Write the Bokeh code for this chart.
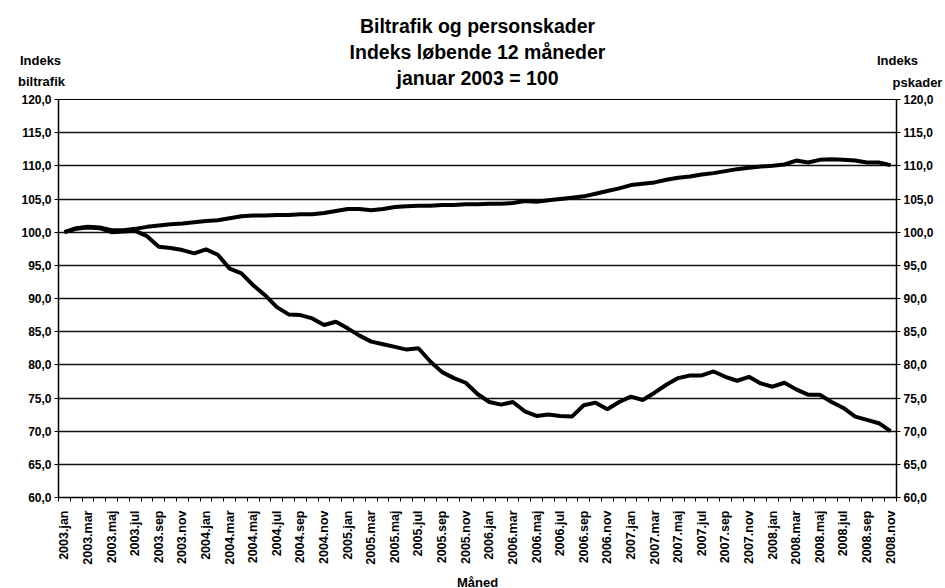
from bokeh.plotting import figure
from bokeh.layouts import column
from bokeh.models import (Label, LinearAxis, FixedTicker, CustomJSTickFormatter,
                          Range1d, ColumnDataSource)
from bokeh.embed import file_html
from bokeh.resources import INLINE

# ---------------- data ----------------
years = [2003, 2004, 2005, 2006, 2007, 2008]
month_names = ["jan", "feb", "mar", "apr", "maj", "jun",
               "jul", "aug", "sep", "okt", "nov", "dec"]
months = [f"{y}.{m}" for y in years for m in month_names][:71]  # 2003.jan .. 2008.nov

biltrafik = [
    100.0, 100.6, 100.8, 100.7, 100.3, 100.3, 100.5, 100.8, 101.0, 101.2, 101.3, 101.5,
    101.7, 101.8, 102.1, 102.4, 102.5, 102.5, 102.6, 102.6, 102.7, 102.7, 102.9, 103.2,
    103.5, 103.5, 103.3, 103.5, 103.8, 103.9, 104.0, 104.0, 104.1, 104.1, 104.2, 104.2,
    104.3, 104.3, 104.4, 104.7, 104.6, 104.8, 105.0, 105.2, 105.4, 105.8, 106.2, 106.6,
    107.1, 107.3, 107.5, 107.9, 108.2, 108.4, 108.7, 108.9, 109.2, 109.5, 109.7, 109.9,
    110.0, 110.2, 110.8, 110.5, 110.9, 111.0, 110.9, 110.8, 110.5, 110.5, 110.1,
]
personskader = [
    100.0, 100.5, 100.7, 100.6, 100.0, 100.1, 100.2, 99.4, 97.8, 97.6, 97.3, 96.8,
    97.4, 96.6, 94.5, 93.8, 92.0, 90.5, 88.7, 87.6, 87.5, 87.0, 86.0, 86.5,
    85.5, 84.4, 83.5, 83.1, 82.7, 82.3, 82.5, 80.5, 78.9, 78.0, 77.3, 75.6,
    74.4, 74.0, 74.4, 73.0, 72.3, 72.5, 72.3, 72.2, 73.9, 74.3, 73.3, 74.4,
    75.2, 74.7, 75.8, 77.0, 78.0, 78.4, 78.4, 79.0, 78.2, 77.6, 78.2, 77.2,
    76.7, 77.3, 76.3, 75.5, 75.5, 74.4, 73.5, 72.2, 71.7, 71.2, 70.0,
]
y_ticks = [60, 65, 70, 75, 80, 85, 90, 95, 100, 105, 110, 115, 120]

title_lines = ["Biltrafik og personskader", "Indeks løbende 12 måneder", "januar 2003 = 100"]
left_label = ["Indeks", "biltrafik"]
right_label = ["Indeks", "pskader"]
x_title = "Måned"

FONT = "Liberation Sans"
W = 945
HEAD_H = 93

# ---------------- header (titles) ----------------
head = figure(width=W, height=HEAD_H, x_range=Range1d(0, W), y_range=Range1d(0, HEAD_H),
              output_backend="svg", toolbar_location=None, title=None,
              min_border=0, min_border_left=0, min_border_right=0,
              min_border_top=0, min_border_bottom=0,
              background_fill_color="white", border_fill_color="white")
head.frame_align = False
head.axis.visible = False
head.grid.visible = False
head.outline_line_color = None

def lab(text, x, y, size):
    head.add_layout(Label(x=x, y=y, text=text, text_font=FONT, text_font_style="bold",
                          text_font_size=size, text_align="center", text_baseline="middle",
                          text_color="black"))

for i, t in enumerate(title_lines):
    lab(t, 477, 68 - 26 * i, "19.5px")
lab(left_label[0], 40, 33, "13px")
lab(left_label[1], 41, 12, "13px")
lab(right_label[0], 897, 33, "13px")
lab(right_label[1], 917, 11, "13px")

# ---------------- main chart ----------------
n = len(months)
idx = list(range(n))
src = ColumnDataSource(data=dict(x=idx, bil=biltrafik, ps=personskader))

p = figure(frame_width=838, frame_height=398,
           x_range=Range1d(-0.5, n - 0.5), y_range=Range1d(y_ticks[0], y_ticks[-1]),
           output_backend="svg", toolbar_location=None, title=None,
           min_border_left=58, min_border_right=49, min_border_top=6, min_border_bottom=91,
           background_fill_color="white", border_fill_color="white")
p.frame_align = False
p.outline_line_color = "black"
p.outline_line_width = 1

yticker = FixedTicker(ticks=y_ticks)
yfmt = CustomJSTickFormatter(code="return tick.toFixed(1).replace('.', ',');")

p.xgrid.visible = False
p.ygrid.ticker = yticker
p.ygrid.grid_line_color = "#111111"
p.ygrid.grid_line_width = 1.3

xa = p.xaxis[0]
xa.ticker = FixedTicker(ticks=idx[::2], minor_ticks=[i - 0.5 for i in range(n + 1)])
xa.formatter = CustomJSTickFormatter(args=dict(labels=months),
                                     code="return labels[Math.round(tick)] || '';")
xa.major_label_orientation = 3.14159265 / 2
xa.major_tick_out = 0
xa.major_tick_in = 0
xa.minor_tick_out = 4
xa.minor_tick_in = 0
xa.minor_tick_line_color = "black"
xa.axis_line_color = "black"
xa.axis_line_width = 1.5
xa.major_label_standoff = 9
xa.major_label_text_font = FONT
xa.major_label_text_font_style = "bold"
xa.major_label_text_font_size = "12.5px"
xa.major_label_text_color = "black"
xa.axis_label = x_title
xa.axis_label_text_font = FONT
xa.axis_label_text_font_style = "bold"
xa.axis_label_text_font_size = "13px"
xa.axis_label_text_color = "black"
xa.axis_label_standoff = 7

def style_y(ax):
    ax.ticker = yticker
    ax.formatter = yfmt
    ax.major_tick_out = 4
    ax.major_tick_in = 0
    ax.minor_tick_out = 0
    ax.minor_tick_in = 0
    ax.axis_line_color = "black"
    ax.axis_line_width = 1.5
    ax.major_tick_line_color = "black"
    ax.major_label_standoff = 3
    ax.major_label_text_font = FONT
    ax.major_label_text_font_style = "bold"
    ax.major_label_text_font_size = "12px"
    ax.major_label_text_color = "black"

style_y(p.yaxis[0])
ra = LinearAxis()
style_y(ra)
p.add_layout(ra, "right")

p.line("x", "bil", source=src, line_color="black", line_width=4)
p.line("x", "ps", source=src, line_color="black", line_width=4)

layout = column(head, p, spacing=0)
open("out.html", "w").write(file_html(layout, INLINE))
